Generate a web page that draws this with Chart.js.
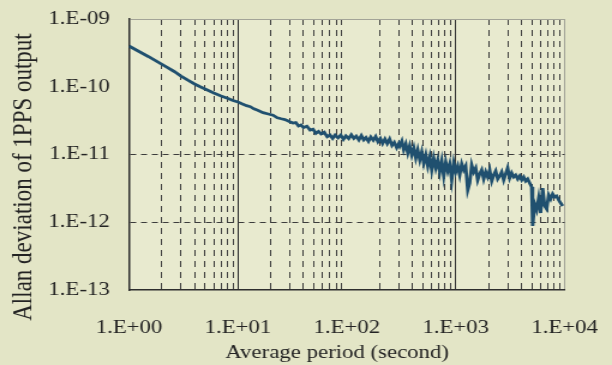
<!DOCTYPE html>
<html>
<head>
<meta charset="utf-8">
<script src="https://cdn.jsdelivr.net/npm/chart.js@4.4.1/dist/chart.umd.min.js"></script>
<style>
html, body { margin: 0; padding: 0; background: #e3e5c6; overflow: hidden; }
/* the scanned figure is wider than it is tall, so stretch the canvas sideways */
#wrap { width: 510px; height: 365px; transform: scaleX(1.2); transform-origin: 0 0; }
</style>
</head>
<body>
<div id="wrap"><canvas id="chart"></canvas></div>
<script>
// averaging time (s)
const tauSeconds = [
    1, 1.2, 1.5, 1.8, 2.2, 2.6, 3, 3.5, 4, 4.5, 5, 6, 7, 8, 9, 10, 11, 12, 13, 14, 15, 17, 19, 21, 23, 25, 27, 30,
    32, 34, 36, 38, 40, 43, 46, 49, 52, 55, 58, 62, 66, 70, 74, 78, 83, 88, 93, 98, 104, 110, 116, 122, 129, 136,
    143, 150, 158, 166, 175, 184, 193, 203, 213, 224, 235, 247, 260, 273, 287, 300,
    306, 320, 333, 348, 363, 378, 395, 412, 430, 448, 468, 488, 509, 531, 554, 578, 602, 628, 656, 684, 713, 744,
    776, 810, 845, 881, 919, 959, 1000, 1043, 1088, 1135, 1184, 1235, 1289, 1344, 1402, 1463, 1526, 1591, 1661,
    1732, 1807, 1885, 1966, 2051, 2140, 2232, 2328, 2429, 2534, 2642, 2757, 2876, 3000, 3129, 3265, 3405, 3553,
    3706, 3866, 4033, 4207, 4388, 4578, 4775, 4981, 5087, 5307, 5536, 5775, 6024, 6284, 6556, 6839, 7134, 7442,
    7763, 8099, 8448, 8810, 9190, 9588
];

// Allan deviation of the 1PPS output
const allanDev = [
    3.99e-10, 3.40e-10, 2.80e-10, 2.37e-10, 1.97e-10, 1.68e-10, 1.44e-10, 1.24e-10, 1.10e-10, 1.00e-10,
    9.27e-11, 8.09e-11, 7.30e-11, 6.76e-11, 6.27e-11, 5.96e-11, 5.56e-11, 5.25e-11, 5.08e-11, 4.73e-11,
    4.52e-11, 4.15e-11, 3.96e-11, 3.80e-11, 3.48e-11, 3.37e-11, 3.28e-11, 3.04e-11,
    2.91e-11, 2.96e-11, 2.63e-11, 2.72e-11, 2.50e-11, 2.61e-11, 2.29e-11, 2.36e-11, 2.05e-11, 2.19e-11,
    2.01e-11, 2.13e-11, 1.83e-11, 1.94e-11, 1.73e-11, 1.93e-11, 1.76e-11, 1.94e-11, 1.67e-11, 1.88e-11,
    1.72e-11, 1.96e-11, 1.73e-11, 1.87e-11, 1.64e-11, 1.90e-11, 1.64e-11, 1.78e-11, 1.56e-11, 1.81e-11,
    1.62e-11, 1.84e-11, 1.54e-11, 1.72e-11, 1.45e-11, 1.69e-11, 1.45e-11, 1.69e-11, 1.36e-11, 1.51e-11,
    1.26e-11, 1.45e-11,
    1.34e-11, 1.58e-11, 1.17e-11, 1.43e-11, 1.05e-11, 1.34e-11, 9.83e-12, 1.25e-11, 8.88e-12, 1.17e-11,
    8.29e-12, 1.09e-11, 7.49e-12, 9.83e-12, 6.77e-12, 9.19e-12, 5.91e-12, 8.88e-12, 6.32e-12, 8.29e-12,
    5.52e-12, 8.02e-12, 4.82e-12, 7.75e-12, 5.71e-12, 7.24e-12, 4.20e-12, 7.49e-12, 5.52e-12, 6.77e-12,
    4.98e-12, 7.24e-12, 5.91e-12, 6.77e-12, 2.99e-12, 3.80e-12, 7.00e-12, 5.52e-12, 6.32e-12, 4.20e-12,
    5.16e-12, 5.91e-12, 4.35e-12, 5.52e-12, 4.66e-12, 5.91e-12, 4.06e-12, 4.98e-12, 5.71e-12, 4.35e-12,
    4.82e-12, 5.52e-12, 4.20e-12, 5.16e-12, 6.32e-12, 4.50e-12, 5.33e-12, 4.66e-12, 4.98e-12, 4.35e-12,
    4.82e-12, 4.20e-12, 4.66e-12, 4.06e-12, 4.35e-12, 3.80e-12, 3.31e-12, 8.8e-13, 1.86e-12, 1.52e-12,
    2.28e-12, 1.37e-12, 3.20e-12, 1.74e-12, 1.57e-12, 2.52e-12, 2.20e-12, 2.61e-12, 2.36e-12, 2.44e-12,
    2.13e-12, 1.92e-12, 1.74e-12
];

const xDecades = [1, 10, 100, 1000, 10000];
const xTickLabels = ['1.E+00', '1.E+01', '1.E+02', '1.E+03', '1.E+04'];
const yDecades = [1e-13, 1e-12, 1e-11, 1e-10, 1e-9];
const yTickLabels = ['1.E-13', '1.E-12', '1.E-11', '1.E-10', '1.E-09'];
const xAxisTitle = 'Average period (second)';
const yAxisTitle = 'Allan deviation of 1PPS output';

const FONT = "'Liberation Serif', 'Times New Roman', serif";
const TEXT = '#232323';
const GRID = '#3c3c3c';
const EDGE = '#a3a497';

// 1..9 in every decade on x, decades only on y
function xTicks() {
    const ticks = [];
    for (let i = 0; i < xDecades.length - 1; i++) {
        for (let k = 1; k <= 9; k++) ticks.push({ value: xDecades[i] * k });
    }
    ticks.push({ value: xDecades[xDecades.length - 1] });
    return ticks;
}

const isDecade = v => xDecades.includes(v);

const paperPlugin = {
    id: 'paper',
    beforeDraw(chart) {
        const { ctx, chartArea: a } = chart;
        ctx.save();
        ctx.fillStyle = '#e8eacf';
        ctx.fillRect(a.left, a.top, a.right - a.left, a.bottom - a.top);
        ctx.restore();
    },
    afterDraw(chart) {
        const ctx = chart.ctx;
        ctx.save();
        ctx.fillStyle = TEXT;
        ctx.textAlign = 'center';
        ctx.textBaseline = 'middle';
        ctx.font = `19px ${FONT}`;
        ctx.fillText(xAxisTitle, 281, 353);
        ctx.translate(20, 177);
        ctx.rotate(-Math.PI / 2);
        ctx.font = `23px ${FONT}`;
        ctx.fillText(yAxisTitle, 0, 0);
        ctx.restore();
    }
};

new Chart(document.getElementById('chart'), {
    type: 'line',
    data: {
        datasets: [{
            data: tauSeconds.map((t, i) => ({ x: t, y: allanDev[i] })),
            borderColor: '#20506f',
            borderWidth: 2.8,
            pointRadius: 0,
            tension: 0,
            fill: false
        }]
    },
    options: {
        responsive: true,
        maintainAspectRatio: false,
        animation: false,
        layout: { padding: { top: 19, right: 39.5, left: 0, bottom: 0 } },
        plugins: { legend: { display: false }, tooltip: { enabled: false } },
        scales: {
            x: {
                type: 'logarithmic',
                min: 1,
                max: 10000,
                afterBuildTicks: scale => { scale.ticks = xTicks(); },
                afterFit: scale => {
                    scale.height = 75;
                    scale.paddingLeft = 0;
                    scale.paddingRight = 0;
                },
                ticks: {
                    autoSkip: false,
                    maxRotation: 0,
                    padding: 27,
                    color: TEXT,
                    font: { family: FONT, size: 19 },
                    callback: v => {
                        const i = xDecades.indexOf(v);
                        return i >= 0 ? xTickLabels[i] : '';
                    }
                },
                grid: {
                    drawTicks: false,
                    lineWidth: 1,
                    color: c => {
                        const v = c.tick.value;
                        if (v === 1) return 'rgba(0,0,0,0)';
                        if (v === 10000) return EDGE;
                        if (v === 100) return 'rgba(0,0,0,0)';
                        return isDecade(v) ? '#2e2e2e' : GRID;
                    }
                },
                border: {
                    color: '#2e2e2e',
                    width: 1.5,
                    dash: c => (c.tick && isDecade(c.tick.value)) ? [] : [6, 5]
                }
            },
            y: {
                type: 'logarithmic',
                min: 1e-13,
                max: 1e-9,
                afterBuildTicks: scale => { scale.ticks = yDecades.map(v => ({ value: v })); },
                afterFit: scale => {
                    scale.width = 107.5;
                    scale.paddingTop = 0;
                    scale.paddingBottom = 0;
                },
                ticks: {
                    autoSkip: false,
                    padding: 16,
                    color: TEXT,
                    font: { family: FONT, size: 19 },
                    callback: v => {
                        const i = yDecades.indexOf(v);
                        return i >= 0 ? yTickLabels[i] : '';
                    }
                },
                grid: {
                    drawTicks: false,
                    lineWidth: 1,
                    color: c => {
                        const v = c.tick.value;
                        if (v === 1e-9) return EDGE;
                        if (v === 1e-11 || v === 1e-12) return GRID;
                        return 'rgba(0,0,0,0)';
                    }
                },
                border: {
                    color: '#2e2e2e',
                    width: 1.5,
                    dash: c => (c.tick && c.tick.value === 1e-9) ? [] : [5, 4]
                }
            }
        }
    },
    plugins: [paperPlugin]
});
</script>
</body>
</html>
